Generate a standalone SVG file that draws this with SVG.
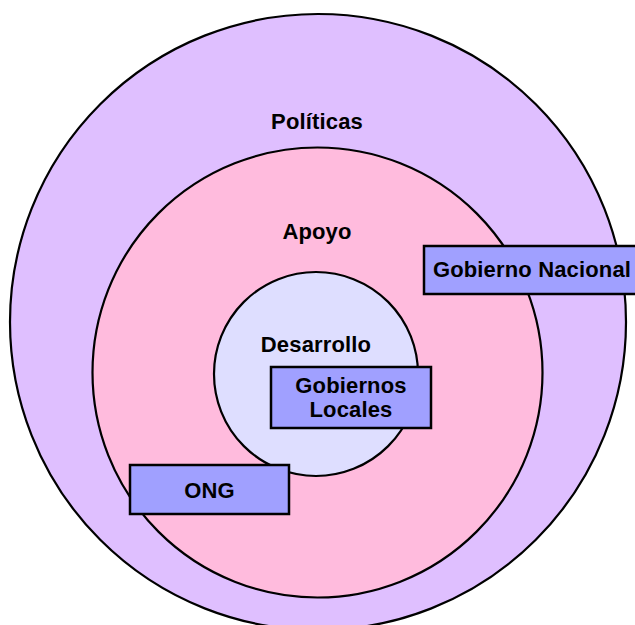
<svg xmlns="http://www.w3.org/2000/svg" width="635" height="625" viewBox="0 0 635 625">
<style>
  .ring { stroke: #000; stroke-width: 2.2; }
  .box { fill: #A0A0FF; stroke: #000; stroke-width: 2.5; }
  .lbl { font-family: "Liberation Sans", Arial, sans-serif; font-weight: bold; font-size: 22px; letter-spacing: 0.15px; fill: #000; text-anchor: middle; }
</style>
<rect x="0" y="0" width="635" height="625" fill="#FFFFFF"/>
<g id="politicas">
  <circle class="ring" cx="318" cy="322" r="308" fill="#DFBFFF"/>
  <text class="lbl" x="317" y="129">Políticas</text>
</g>
<g id="apoyo">
  <circle class="ring" cx="317.5" cy="372.5" r="225" fill="#FFBBDD"/>
  <text class="lbl" x="317" y="239">Apoyo</text>
</g>
<g id="desarrollo">
  <circle class="ring" cx="316" cy="374" r="102" fill="#DEDEFF"/>
  <text class="lbl" x="316" y="352">Desarrollo</text>
</g>
<g id="connectors"></g>
<g id="gobierno-nacional">
  <rect class="box" x="424" y="246" width="220" height="48"/>
  <text class="lbl" x="532" y="277">Gobierno Nacional</text>
</g>
<g id="gobiernos-locales">
  <rect class="box" x="271" y="367" width="160" height="61"/>
  <text class="lbl" x="351" y="393">Gobiernos</text>
  <text class="lbl" x="351" y="417">Locales</text>
</g>
<g id="ong">
  <rect class="box" x="130" y="465" width="159" height="49"/>
  <text class="lbl" x="209.5" y="498">ONG</text>
</g>
</svg>
